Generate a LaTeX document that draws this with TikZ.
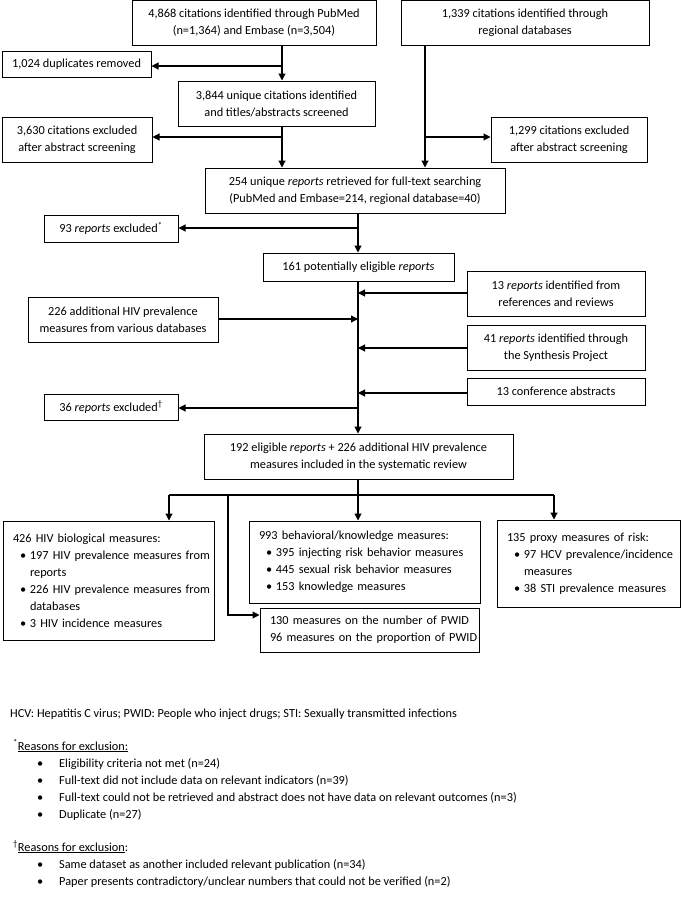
\documentclass[tikz,border=0pt]{standalone}
\usepackage{fontspec}
\setmainfont{Carlito}
\usetikzlibrary{arrows.meta}
\newcommand{\fnt}{\fontsize{12.3}{17}\selectfont}
\newcommand{\bul}[1]{\mbox{\hspace*{7pt}\makebox[10pt][l]{\textbullet}#1}}
\newcommand{\cnt}[1]{\mbox{\hspace*{17pt}#1}}
\begin{document}
\begin{tikzpicture}[x=1pt,y=-1pt,
  box/.style={draw=black, line width=1pt, inner sep=0pt, align=center, font=\fnt},
  lbox/.style={draw=black, line width=1pt, inner xsep=10pt, inner ysep=0pt, align=left, font=\fnt},
  conn/.style={draw=black, line width=1.1pt},
  arr/.style={conn, -{Triangle[length=7pt,width=7pt]}},
  fn/.style={anchor=base west, inner sep=0pt, font=\fnt}]
\useasboundingbox (0,0) rectangle (682,918);
% boxes
\node[box, minimum width=244pt, minimum height=44.5pt] (A) at (254,22.75) {4,868 citations identified through PubMed\\(n=1,364) and Embase (n=3,504)};
\node[box, minimum width=248pt, minimum height=44.5pt] (B) at (525,22.75) {1,339 citations identified through\\regional databases};
\node[box, minimum width=149pt, minimum height=26pt] (C) at (76.5,64) {1,024 duplicates removed};
\node[box, minimum width=197pt, minimum height=45pt] (D) at (276.5,103.5) {3,844 unique citations identified\\and titles/abstracts screened};
\node[box, minimum width=150pt, minimum height=45pt] (E) at (77,139.5) {3,630 citations excluded\\after abstract screening};
\node[box, minimum width=156pt, minimum height=45pt] (F) at (569,139.5) {1,299 citations excluded\\after abstract screening};
\node[box, minimum width=300pt, minimum height=45pt] (G) at (355,190.5) {254 unique \textit{reports} retrieved for full-text searching\\(PubMed and Embase=214, regional database=40)};
\node[box, minimum width=134pt, minimum height=27pt] (H) at (111,228.5) {93 \textit{reports} excluded\textsuperscript{*}};
\node[box, minimum width=191pt, minimum height=28pt] (I) at (358.5,267) {161 potentially eligible \textit{reports}};
\node[box, minimum width=178pt, minimum height=45pt] (K) at (556,293.5) {13 \textit{reports} identified from\\references and reviews};
\node[box, minimum width=190pt, minimum height=45pt] (L) at (123,319.5) {226 additional HIV prevalence\\measures from various databases};
\node[box, minimum width=178pt, minimum height=45pt] (M) at (556,347.5) {41 \textit{reports} identified through\\the Synthesis Project};
\node[box, minimum width=178pt, minimum height=27pt] (N) at (556,391.5) {13 conference abstracts};
\node[box, minimum width=134pt, minimum height=26pt] (O) at (111,407) {36 \textit{reports} excluded\textsuperscript{\textdagger}};
\node[box, minimum width=309pt, minimum height=45pt] (P) at (358.5,456.5) {192 eligible \textit{reports} + 226 additional HIV prevalence\\measures included in the systematic review};
\node[lbox, text width=191pt, minimum height=119pt] (Q) at (108.5,580.5) {426 HIV biological measures:\\\bul{197 HIV prevalence measures from}\\\cnt{reports}\\\bul{226 HIV prevalence measures from}\\\cnt{databases}\\\bul{3 HIV incidence measures}};
\node[lbox, text width=211pt, minimum height=82pt] (S) at (364.5,562) {993 behavioral/knowledge measures:\\\bul{395 injecting risk behavior measures}\\\bul{445 sexual risk behavior measures}\\\bul{153 knowledge measures}};
\node[lbox, text width=163pt, minimum height=87pt] (T) at (588.5,563.5) {135 proxy measures of risk:\\\bul{97 HCV prevalence/incidence}\\\cnt{measures}\\\bul{38 STI prevalence measures}};
\node[lbox, text width=199pt, minimum height=44pt] (R) at (369.5,630) {\mbox{130 measures on the number of PWID}\\\mbox{96 measures on the proportion of PWID}};
% trunk positions
\coordinate (xA) at (282,0);
\coordinate (xB) at (425,0);
\coordinate (xT) at (358,0);
% connectors top
\draw[arr] (A.south -| xA) -- (D.north -| xA);
\coordinate (jC) at (282,66);
\draw[arr] (jC) -- (jC -| C.east);
\draw[arr] (D.south -| xA) -- (G.north -| xA);
\coordinate (jE) at (282,137);
\draw[arr] (jE) -- (jE -| E.east);
\draw[arr] (B.south -| xB) -- (G.north -| xB);
\coordinate (jF) at (425,137);
\draw[arr] (jF) -- (jF -| F.west);
\draw[arr] (G.south -| xT) -- (I.north -| xT);
\coordinate (jH) at (358,228);
\draw[arr] (jH) -- (jH -| H.east);
\draw[arr] (I.south -| xT) -- (P.north -| xT);
\coordinate (jK) at (358,293);
\draw[arr] (jK -| K.west) -- (jK);
\coordinate (jL) at (358,319);
\draw[arr] (jL -| L.east) -- (jL);
\coordinate (jM) at (358,348);
\draw[arr] (jM -| M.west) -- (jM);
\coordinate (jN) at (358,393);
\draw[arr] (jN -| N.west) -- (jN);
\coordinate (jO) at (358,408);
\draw[arr] (jO) -- (jO -| O.east);
% bottom split
\coordinate (hb) at (358,495);
\coordinate (hl) at (169,495);
\coordinate (hr) at (554,495);
\coordinate (hm) at (228,495);
\coordinate (hm2) at (228,615);
\draw[conn] (P.south -| xT) -- (hb);
\draw[conn] (hl) -- (hr);
\draw[arr] (hl) -- (hl |- Q.north);
\draw[arr] (hb) -- (hb |- S.north);
\draw[arr] (hr) -- (hr |- T.north);
\draw[arr] (hm) -- (hm2) -- (hm2 -| R.west);
% footnotes
\node[fn] (f1) at (10,717) {HCV: Hepatitis C virus; PWID: People who inject drugs; STI: Sexually transmitted infections};
\node[fn] (f2) at (13,750) {\textsuperscript{*}\underline{Reasons for exclusion:}};
\node[fn] (f3) at (37,767) {\makebox[22pt][l]{\textbullet}Eligibility criteria not met (n=24)};
\node[fn] (f4) at (37,784) {\makebox[22pt][l]{\textbullet}Full-text did not include data on relevant indicators (n=39)};
\node[fn] (f5) at (37,801) {\makebox[22pt][l]{\textbullet}Full-text could not be retrieved and abstract does not have data on relevant outcomes (n=3)};
\node[fn] (f6) at (37,818) {\makebox[22pt][l]{\textbullet}Duplicate (n=27)};
\node[fn] (f7) at (13,851) {\textsuperscript{\textdagger}\underline{Reasons for exclusion}:};
\node[fn] (f8) at (37,868) {\makebox[22pt][l]{\textbullet}Same dataset as another included relevant publication (n=34)};
\node[fn] (f9) at (37,885) {\makebox[22pt][l]{\textbullet}Paper presents contradictory/unclear numbers that could not be verified (n=2)};
\end{tikzpicture}
\end{document}
